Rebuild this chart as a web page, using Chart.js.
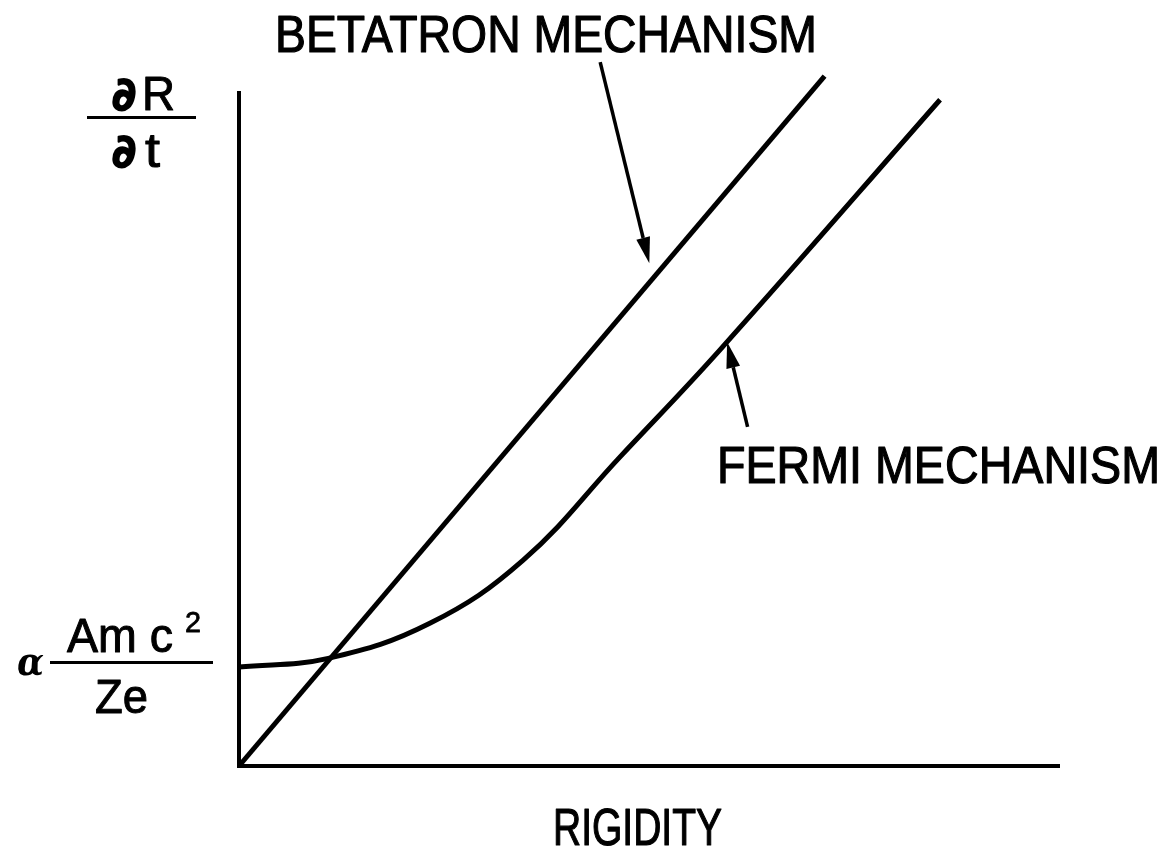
<!DOCTYPE html>
<html>
<head>
<meta charset="utf-8">
<script src="https://cdn.jsdelivr.net/npm/chart.js@4"></script>
<style>
  html, body { margin: 0; padding: 0; background: #fff; }
  canvas { display: block; }
</style>
</head>
<body>
<canvas id="chart" width="1174" height="854"></canvas>
<script>
// rigidity (x) and rate of change dR/dt (y), arbitrary units 0..100
const betatronRigidity = [0, 71.5];
const betatronRate = [0, 102.5];

const fermiRigidity = [0, 10.9, 23.3, 34.7, 46.5, 58.7, 85.6];
const fermiRate = [14.7, 16.0, 21.2, 30.6, 45.9, 61.8, 99.0];

// label arrows: [tailX, tailY, tipX, tipY] in data units
const betatronArrow = [44.1, 104.6, 50.1, 74.7];
const fermiArrow = [62.1, 50.4, 59.6, 63.0];

const INK = '#000';
const SANS = '"Liberation Sans", Arial, sans-serif';
const PARTIAL = 'bold 46px "DejaVu Sans", sans-serif';

function toPoints(xs, ys) {
    return xs.map((x, i) => ({x: x, y: ys[i]}));
}

// draw text squeezed/stretched to a given width, left aligned at x
function fitText(ctx, text, x, y, width, font, weight) {
    ctx.save();
    ctx.font = font;
    ctx.textBaseline = 'alphabetic';
    ctx.textAlign = 'left';
    var w = ctx.measureText(text).width;
    ctx.translate(x, y);
    ctx.scale(width / w, 1);
    ctx.fillText(text, 0, 0);
    if (weight) {
        ctx.lineWidth = weight;
        ctx.lineJoin = 'round';
        ctx.strokeText(text, 0, 0);
    }
    ctx.restore();
}

function arrow(ctx, xs, ys, a) {
    var x0 = xs.getPixelForValue(a[0]), y0 = ys.getPixelForValue(a[1]);
    var x1 = xs.getPixelForValue(a[2]), y1 = ys.getPixelForValue(a[3]);
    var ang = Math.atan2(y1 - y0, x1 - x0);
    var len = 26, half = 7;
    var bx = x1 - len * Math.cos(ang), by = y1 - len * Math.sin(ang);
    ctx.beginPath();
    ctx.moveTo(x0, y0);
    ctx.lineTo(bx, by);
    ctx.lineWidth = 3.5;
    ctx.stroke();
    ctx.beginPath();
    ctx.moveTo(x1, y1);
    ctx.lineTo(bx - half * Math.sin(ang), by + half * Math.cos(ang));
    ctx.lineTo(bx + half * Math.sin(ang), by - half * Math.cos(ang));
    ctx.closePath();
    ctx.fill();
}

const sketch = {
    id: 'sketch',
    afterDatasetsDraw(chart) {
        var ctx = chart.ctx;
        var xs = chart.scales.x, ys = chart.scales.y;
        var ox = xs.getPixelForValue(0), oy = ys.getPixelForValue(0);

        ctx.save();
        ctx.strokeStyle = INK;
        ctx.fillStyle = INK;
        ctx.lineCap = 'square';

        // axes
        ctx.lineWidth = 4;
        ctx.beginPath();
        ctx.moveTo(ox, ys.getPixelForValue(100));
        ctx.lineTo(ox, oy);
        ctx.lineTo(xs.getPixelForValue(100), oy);
        ctx.stroke();

        ctx.lineCap = 'butt';
        arrow(ctx, xs, ys, betatronArrow);
        arrow(ctx, xs, ys, fermiArrow);

        // curve labels and axis title
        fitText(ctx, 'BETATRON MECHANISM', 275, 52, 542, '52px ' + SANS, 1.2);
        fitText(ctx, 'FERMI MECHANISM', 717, 483, 443, '52px ' + SANS, 1.2);
        fitText(ctx, 'RIGIDITY', 553, 845, 169, '52px ' + SANS, 1.2);

        // y axis title: dR/dt
        fitText(ctx, '∂', 112, 110, 24, PARTIAL, 2);
        fitText(ctx, 'R', 142, 110, 33, '48px ' + SANS, 1);
        ctx.fillRect(87, 116, 109, 3);
        fitText(ctx, '∂', 112, 167, 24, PARTIAL, 2);
        fitText(ctx, 't', 145, 167, 15, '48px ' + SANS, 1);

        // intercept label: alpha Amc^2/Ze
        fitText(ctx, 'α', 17, 675, 27, 'bold italic 40px "DejaVu Serif", serif');
        ctx.fillRect(50, 661, 163, 3);
        fitText(ctx, 'Am c', 67, 652, 106, '48px ' + SANS, 1);
        fitText(ctx, '2', 185, 632, 16, '30px ' + SANS, 0.8);
        fitText(ctx, 'Ze', 95, 713, 53, '48px ' + SANS, 1);

        ctx.restore();
    }
};

const ctx = document.getElementById('chart').getContext('2d');

new Chart(ctx, {
    type: 'scatter',
    data: {
        datasets: [
            {
                label: 'Betatron mechanism',
                data: toPoints(betatronRigidity, betatronRate),
                showLine: true,
                borderColor: INK,
                borderWidth: 5,
                pointRadius: 0,
                clip: false
            },
            {
                label: 'Fermi mechanism',
                data: toPoints(fermiRigidity, fermiRate),
                showLine: true,
                borderColor: INK,
                borderWidth: 5,
                pointRadius: 0,
                tension: 0.4,
                clip: false
            }
        ]
    },
    options: {
        responsive: false,
        animation: false,
        layout: {padding: {left: 239, right: 116, top: 93, bottom: 88}},
        plugins: {legend: {display: false}, tooltip: {enabled: false}},
        scales: {
            x: {type: 'linear', min: 0, max: 100, display: false},
            y: {type: 'linear', min: 0, max: 100, display: false}
        }
    },
    plugins: [sketch]
});
</script>
</body>
</html>
